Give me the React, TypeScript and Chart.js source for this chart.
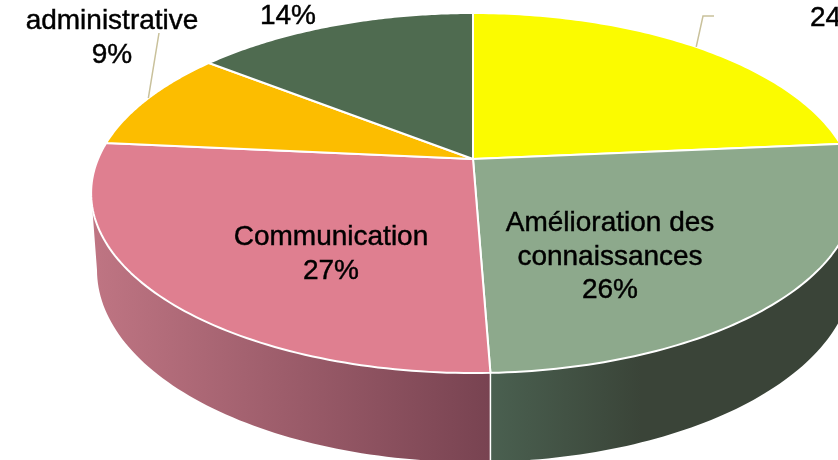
import React, { useEffect, useRef } from "react";
import { Chart, ArcElement, PieController, Plugin } from "chart.js";

Chart.register(ArcElement, PieController);

// ---- data (share of total, %) ----
const categories: string[][] = [
  [],
  ["Amélioration des", "connaissances"],
  ["Communication"],
  ["administrative"],
  [],
];
const shares = [23.6, 25.8, 27.1, 9.1, 14.4];
const sliceColors = ["#FBFB00", "#8DA98C", "#DF7F90", "#FCBD00", "#4F6B50"];

// ---- perspective geometry of the disc ----
const apex = { x: 473, y: 159 };
const spread = { a: 375, b: 173.6, p: -0.189 };
const base = { cx: 475, cy: 270, rx: 378, ry: 192 };
const wallStart = 4.45; // radians clockwise from top where the left wall emerges

const wallFills: Record<number, [number, string][]> = {
  1: [[0, "#4A6050"], [0.42, "#3A4438"], [1, "#3A4438"]],
  2: [[0, "#BF7583"], [1, "#784351"]],
};

// label anchors: centre x and first baseline
const labelAnchors = [
  { x: 838, y: 26 },
  { x: 610, y: 231 },
  { x: 331, y: 245 },
  { x: 112, y: 29 },
  { x: 288, y: 24 },
];
const lineHeight = 33.5;
const labelFont = '28px "Liberation Sans", Arial, sans-serif';

function project(theta: number) {
  const u = Math.sin(theta);
  const v = -Math.cos(theta);
  const d = 1 + spread.p * v;
  return { x: apex.x + (spread.a * u) / d, y: apex.y + (spread.b * v) / d };
}
const toTheta = (angle: number) => angle + Math.PI / 2;

// Slices are still chart.js arc elements; only their outline goes through the perspective.
ArcElement.prototype.draw = function (this: any, ctx: CanvasRenderingContext2D) {
  const { startAngle, endAngle } = this.getProps(["startAngle", "endAngle"], true);
  const t0 = toTheta(startAngle);
  const t1 = toTheta(endAngle);
  ctx.save();
  ctx.beginPath();
  ctx.moveTo(apex.x, apex.y);
  const steps = 90;
  for (let i = 0; i <= steps; i++) {
    const p = project(t0 + ((t1 - t0) * i) / steps);
    ctx.lineTo(p.x, p.y);
  }
  ctx.closePath();
  ctx.fillStyle = this.options.backgroundColor;
  ctx.fill();
  ctx.strokeStyle = "#FFFFFF";
  ctx.lineWidth = 2;
  ctx.lineJoin = "round";
  ctx.stroke();
  ctx.restore();
};

const wallPlugin: Plugin<"pie"> = {
  id: "wall",
  beforeDatasetsDraw(chart) {
    const ctx = chart.ctx;
    const arcs = chart.getDatasetMeta(0).data as any[];
    [1, 2].forEach((i) => {
      const a = arcs[i];
      const t0 = toTheta(a.startAngle);
      const t1 = toTheta(a.endAngle);
      const isLeft = i === 2;
      const from = isLeft ? t0 : Math.PI - 1.3;
      const to = isLeft ? wallStart : t1;
      const pts: { x: number; y: number }[] = [];
      for (let k = 0; k <= 70; k++) pts.push(project(from + ((to - from) * k) / 70));
      const seam = isLeft ? pts[0] : pts[pts.length - 1];
      ctx.save();
      ctx.beginPath();
      pts.forEach((p, k) => (k ? ctx.lineTo(p.x, p.y) : ctx.moveTo(p.x, p.y)));
      // return along the lower edge
      const baseAngle = (x: number) =>
        Math.acos(Math.max(-1, Math.min(1, (x - base.cx) / base.rx)));
      const s = baseAngle(pts[pts.length - 1].x);
      const e = baseAngle(pts[0].x);
      for (let k = 0; k <= 70; k++) {
        const ang = s + ((e - s) * k) / 70;
        ctx.lineTo(base.cx + base.rx * Math.cos(ang), base.cy + base.ry * Math.sin(ang));
      }
      ctx.closePath();
      const x0 = isLeft ? 92 : seam.x;
      const x1 = isLeft ? seam.x : 850;
      const g = ctx.createLinearGradient(x0, 0, x1, 0);
      wallFills[i].forEach(([o, c]) => g.addColorStop(o, c));
      ctx.fillStyle = g;
      ctx.fill();
      ctx.restore();
    });
    // seam between the two walls
    const seam = project(toTheta(arcs[1].endAngle));
    ctx.save();
    ctx.strokeStyle = "#FFFFFF";
    ctx.lineWidth = 1.5;
    ctx.beginPath();
    ctx.moveTo(seam.x, seam.y);
    ctx.lineTo(seam.x, chart.height);
    ctx.stroke();
    ctx.restore();
  },
};

const labelPlugin: Plugin<"pie"> = {
  id: "pieLabels",
  afterDatasetsDraw(chart) {
    const ctx = chart.ctx;
    const arcs = chart.getDatasetMeta(0).data as any[];
    // leader lines start on the rim of their slice
    const rimA = project(toTheta(arcs[3].startAngle) + 0.29);
    const rimY = project(toTheta(arcs[0].startAngle) + 0.745);
    ctx.save();
    ctx.strokeStyle = "#C9C19B";
    ctx.lineWidth = 1.5;
    ctx.beginPath();
    ctx.moveTo(rimA.x, rimA.y);
    ctx.lineTo(159, 33);
    ctx.moveTo(rimY.x, rimY.y);
    ctx.lineTo(703, 16);
    ctx.lineTo(714, 16);
    ctx.stroke();
    ctx.fillStyle = "#000000";
    ctx.strokeStyle = "#000000";
    ctx.lineWidth = 0.45;
    ctx.font = labelFont;
    ctx.textAlign = "center";
    ctx.textBaseline = "alphabetic";
    shares.forEach((share, i) => {
      const lines = [...categories[i], `${Math.round(share)}%`];
      lines.forEach((line, k) => {
        const y = labelAnchors[i].y + k * lineHeight;
        ctx.fillText(line, labelAnchors[i].x, y);
        ctx.strokeText(line, labelAnchors[i].x, y);
      });
    });
    ctx.restore();
  },
};

export default function App() {
  const ref = useRef<HTMLCanvasElement>(null);
  useEffect(() => {
    const chart = new Chart(ref.current!, {
      type: "pie",
      data: {
        labels: categories.map((c) => c.join(" ")),
        datasets: [{ data: shares, backgroundColor: sliceColors }],
      },
      options: {
        responsive: false,
        animation: false,
        events: [],
        layout: { padding: 0 },
        plugins: { legend: { display: false }, tooltip: { enabled: false } },
      },
      plugins: [wallPlugin, labelPlugin],
    });
    return () => chart.destroy();
  }, []);
  return (
    <div style={{ position: "fixed", left: 0, top: 0, width: 838, height: 460, overflow: "hidden", background: "#fff" }}>
      <canvas ref={ref} width={838} height={460} style={{ display: "block" }} />
    </div>
  );
}
